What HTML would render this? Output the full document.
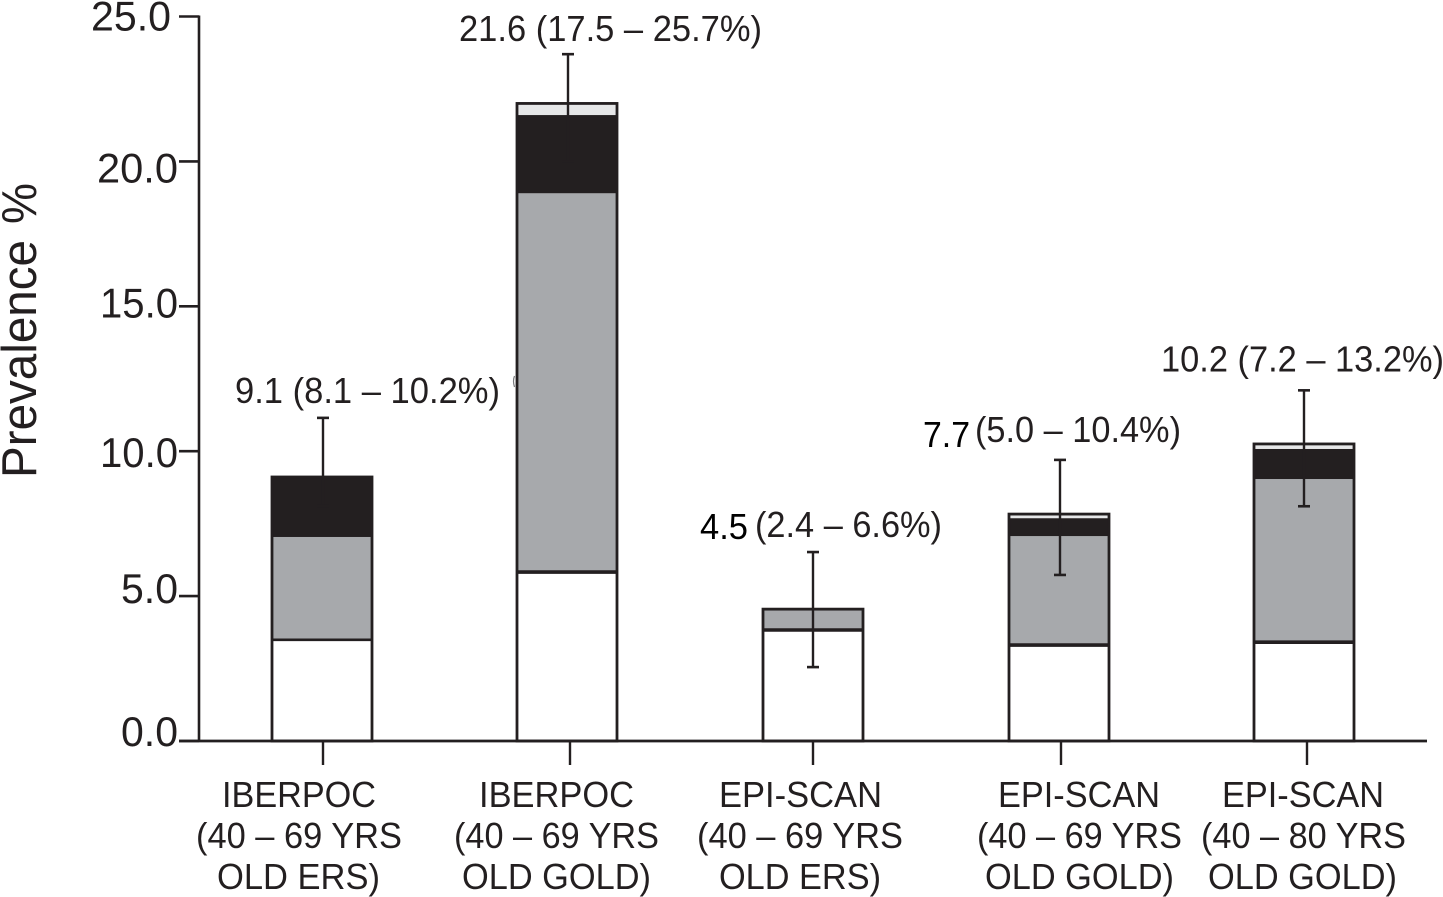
<!DOCTYPE html>
<html lang="en">
<head>
<meta charset="utf-8">
<title>Prevalence by study</title>
<style>
  html, body { margin: 0; padding: 0; background: #fff; }
  svg { display: block; }
  text { font-family: "Liberation Sans", Arial, sans-serif; fill: #231f20; }
</style>
</head>
<body>
<svg id="chart" xmlns="http://www.w3.org/2000/svg" width="1443" height="897" viewBox="0 0 1443 897"></svg>
<script>
const categories = [
  ["IBERPOC", "(40 – 69 YRS", "OLD ERS)"],
  ["IBERPOC", "(40 – 69 YRS", "OLD GOLD)"],
  ["EPI-SCAN", "(40 – 69 YRS", "OLD ERS)"],
  ["EPI-SCAN", "(40 – 69 YRS", "OLD GOLD)"],
  ["EPI-SCAN", "(40 – 80 YRS", "OLD GOLD)"]
];
const stage1 = [3.49, 5.83, 3.83, 3.31, 3.41];
const stage2 = [3.55, 13.07, 0.72, 3.76, 5.63];
const stage3 = [2.07, 2.70, 0, 0.62, 1.04];
const stage4 = [0, 0.40, 0, 0.14, 0.17];
const errHigh = [11.15, 23.7, 6.52, 9.70, 12.10];
const errLow = [8.1, 20.0, 2.55, 5.73, 8.10];
const yTicks = [0, 5, 10, 15, 20, 25];
const yTickLabels = ["0.0", "5.0", "10.0", "15.0", "20.0", "25.0"];
const valueLabels = ["9.1", "21.6", "4.5", "7.7", "10.2"];
const rangeLabels = ["(8.1 – 10.2%)", "(17.5 – 25.7%)", "(2.4 – 6.6%)", "(5.0 – 10.4%)", "(7.2 – 13.2%)"];

const NS = "http://www.w3.org/2000/svg";
const svg = document.getElementById("chart");
const INK = "#231f20";

function y(v) { return 741 - v * 28.98; }
function bandLeft(i) { return [272, 517, 763, 1009, 1254][i]; }
function bandWidth() { return 100; }

function make(tag, attrs, parent) {
  const el = document.createElementNS(NS, tag);
  for (const k in attrs) el.setAttribute(k, attrs[k]);
  (parent || svg).appendChild(el);
  return el;
}
function line(x1, y1, x2, y2, w, name) {
  const el = make("line", { x1, y1, x2, y2, stroke: INK, "stroke-width": w });
  
  
  return el;
}
function label(str, x, yy, size, len, name, extra) {
  const el = make("text", { x, y: yy, "font-size": size, textLength: len, lengthAdjust: "spacingAndGlyphs" });
  el.textContent = str;
  
  
  if (extra) for (const k in extra) el.setAttribute(k, extra[k]);
  return el;
}

/* y axis */
line(199, y(25) - 1, 199, y(0), 2.6, "y-axis-line");
const yNudge = [5, 7, 16, 11, 21, 14];
const yLabelLeft = [121, 121, 100, 100, 97, 91];
const yLabelWidth = [57, 57, 78, 78, 81, 80];
yTicks.forEach(function (t, i) {
  line(179, y(t), 199, y(t), 2.6, "y-tick-" + yTickLabels[i]);
  label(yTickLabels[i], yLabelLeft[i], y(t) + yNudge[i], 42, yLabelWidth[i], "y-tick-label-" + yTickLabels[i]);
});

/* y axis title */
const titleWord = label("Prevalence", 0, 0, 49, 238, "y-axis-title");
titleWord.setAttribute("transform", "translate(36 478) rotate(-90)");
const titleUnit = label("%", 0, 0, 49, 41, "y-axis-title-unit");
titleUnit.setAttribute("transform", "translate(36 224) rotate(-90)");

/* bars */
const seriesList = [stage1, stage2, stage3, stage4];
const seriesFill = ["#ffffff", "#a7a9ac", "#231f20", "#e6e7e8"];
categories.forEach(function (c, i) {
  const x = bandLeft(i), w = bandWidth();
  let base = 0;
  seriesList.forEach(function (s, k) {
    const v = s[i];
    if (v <= 0) return;
    const r = make("rect", { x: x, y: y(base + v), width: w, height: y(base) - y(base + v), fill: seriesFill[k] });
    
    
    base += v;
  });
  /* divider under grey + top of stack */
  const firstTop = y(stage1[i]);
  line(x, firstTop, x + w, firstTop, i === 0 ? 2.6 : 3.6, "bar-" + (i + 1) + "-divider");
  const outline = make("rect", { x: x, y: y(base), width: w, height: y(0) - y(base), fill: "none", stroke: INK, "stroke-width": 2.8 });
  
  
});

/* error bars */
const errX = [323, 568, 813, 1060, 1304];
categories.forEach(function (c, i) {
  const hi = y(errHigh[i]), lo = y(errLow[i]);
  line(errX[i], hi, errX[i], lo, 2.4, "error-bar-" + (i + 1));
  line(errX[i] - 6, hi, errX[i] + 6, hi, 2.6, "error-cap-high-" + (i + 1));
  line(errX[i] - 6, lo, errX[i] + 6, lo, 2.6, "error-cap-low-" + (i + 1));
});

/* x axis */
line(179, y(0), 1427, y(0), 2.8, "x-axis-line");
const tickX = [323, 570, 813, 1061, 1307];
const xLeft = [
  [222, 196, 217],
  [479, 454, 462],
  [719, 697, 719],
  [998, 977, 985],
  [1222, 1201, 1208]
];
const xWidth = [
  [154, 206, 163],
  [155, 205, 189],
  [163, 206, 162],
  [162, 205, 189],
  [162, 205, 189]
];
categories.forEach(function (c, i) {
  line(tickX[i], y(0), tickX[i], 765, 2.4, "x-tick-" + (i + 1));
  c.forEach(function (row, r) {
    label(row, xLeft[i][r], 807 + r * 41, 36, xWidth[i][r], "x-label-" + (i + 1) + "-line-" + (r + 1));
  });
});

/* annotations */
const noteLeft = [235, 459, 700, 923, 1161];
const noteWidth = [265, 303, 48, 47, 283];
const noteRise = [15, 13, 13, 13, 19];
categories.forEach(function (c, i) {
  const base = y(errHigh[i]) - noteRise[i];
  if (i === 2 || i === 3) {
    label(valueLabels[i], noteLeft[i], base, 36, noteWidth[i], "value-label-" + (i + 1), { style: "fill:#000" });
    const restLeft = i === 2 ? 755 : 975;
    const restWidth = i === 2 ? 187 : 206;
    label(rangeLabels[i], restLeft, base - (i === 3 ? 5 : 2), 36, restWidth, "range-label-" + (i + 1));
  } else {
    label(valueLabels[i] + " " + rangeLabels[i], noteLeft[i], base, 36, noteWidth[i], "value-range-label-" + (i + 1));
  }
});

/* small print speck beside the second bar */
const speck = make("path", { d: "M514.5 376 Q512.5 381 514.5 387", fill: "none", stroke: "#77787b", "stroke-width": 1.2 });


</script>
</body>
</html>
